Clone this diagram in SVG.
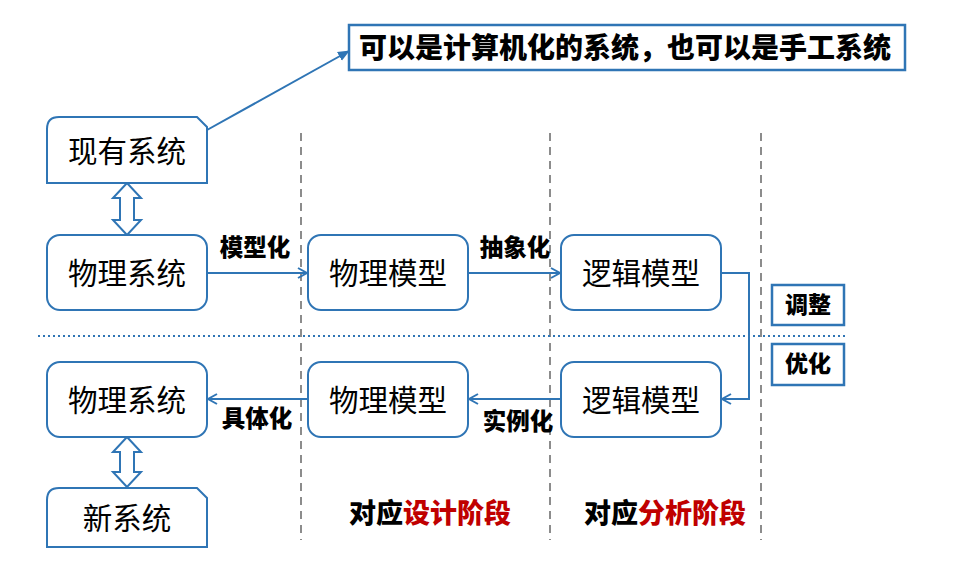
<svg xmlns="http://www.w3.org/2000/svg" width="955" height="587" viewBox="0 0 955 587">
<defs>
<style>
.box{fill:#fff;stroke:#2F75B5;stroke-width:2}
.sq{fill:#fff;stroke:#2F75B5;stroke-width:2.5}
.dbl{fill:#fff;stroke:#2F75B5;stroke-width:2;stroke-linejoin:miter}
.ln{fill:none;stroke:#2F75B5;stroke-width:2}
.dash{stroke:#8C8C8C;stroke-width:2;stroke-dasharray:8,6}
.dot{stroke:#2F75B5;stroke-width:2;stroke-dasharray:2,3}
.nt{font-family:"Noto Sans CJK SC","Noto Sans",sans-serif;font-size:29.5px;fill:#000;text-anchor:middle}
.bt{font-family:"Noto Sans CJK SC","Noto Sans",sans-serif;font-weight:900;fill:#000;text-anchor:middle}
.red{fill:#C00000}
</style>
<marker id="open" markerWidth="12" markerHeight="12" refX="10" refY="6" orient="auto" markerUnits="userSpaceOnUse">
<path d="M1,1 L10,6 L1,11" fill="none" stroke="#2F75B5" stroke-width="2"/>
</marker>
<marker id="fill" markerWidth="12" markerHeight="12" refX="11" refY="6" orient="auto" markerUnits="userSpaceOnUse">
<path d="M0,1 L12,6 L0,11 Z" fill="#2F75B5"/>
</marker>
</defs>
<rect width="955" height="587" fill="#fff"/>

<g id="guides">
<line class="dash" x1="301" y1="133" x2="301" y2="540"/>
<line class="dash" x1="550" y1="133" x2="550" y2="540"/>
<line class="dash" x1="761" y1="133" x2="761" y2="540"/>
<line class="dot" x1="38" y1="336" x2="845" y2="336"/>
</g>

<g id="connectors">
<line class="ln" x1="207" y1="130" x2="349" y2="51" marker-end="url(#fill)"/>
<line class="ln" x1="207" y1="273" x2="307" y2="273" marker-end="url(#open)"/>
<line class="ln" x1="468" y1="273" x2="560" y2="273" marker-end="url(#open)"/>
<path class="ln" d="M721,273 H749 V399 H722" marker-end="url(#open)"/>
<line class="ln" x1="561" y1="399" x2="469" y2="399" marker-end="url(#open)"/>
<line class="ln" x1="308" y1="399" x2="208" y2="399" marker-end="url(#open)"/>
<polygon class="dbl" points="127,183 141,198 134,198 134,220 141,220 127,235 113,220 120,220 120,198 113,198"/>
<polygon class="dbl" points="127,437 141,452 134,452 134,472 141,472 127,487 113,472 120,472 120,452 113,452"/>
<text class="bt" x="255" y="256" font-size="23.5">模型化</text>
<text class="bt" x="515" y="256" font-size="23.5">抽象化</text>
<text class="bt" x="257" y="427" font-size="23.5">具体化</text>
<text class="bt" x="518" y="430" font-size="23.5">实例化</text>
</g>

<g id="callout">
<rect class="sq" x="349" y="25" width="556" height="45"/>
<text class="bt" x="625" y="58" font-size="28">可以是计算机化的系统，也可以是手工系统</text>
</g>

<g id="existing">
<path class="box" d="M47,183 V129 Q47,117 59,117 H197 L207,127 V183 Z"/>
<text class="nt" x="127" y="162" font-size="26">现有系统</text>
</g>

<g id="phys-sys-top">
<rect class="box" x="47" y="235" width="160" height="75" rx="13"/>
<text class="nt" x="127" y="284">物理系统</text>
</g>
<g id="phys-model-top">
<rect class="box" x="308" y="235" width="160" height="75" rx="13"/>
<text class="nt" x="388" y="284">物理模型</text>
</g>
<g id="logic-model-top">
<rect class="box" x="561" y="235" width="160" height="75" rx="13"/>
<text class="nt" x="641" y="284">逻辑模型</text>
</g>

<g id="phys-sys-bot">
<rect class="box" x="47" y="362" width="160" height="75" rx="13"/>
<text class="nt" x="127" y="411">物理系统</text>
</g>
<g id="phys-model-bot">
<rect class="box" x="308" y="362" width="160" height="75" rx="13"/>
<text class="nt" x="388" y="411">物理模型</text>
</g>
<g id="logic-model-bot">
<rect class="box" x="561" y="362" width="160" height="75" rx="13"/>
<text class="nt" x="641" y="411">逻辑模型</text>
</g>

<g id="new-sys">
<path class="box" d="M47,547 V500 Q47,488 59,488 H197 L207,498 V547 Z"/>
<text class="nt" x="127" y="529" font-size="26">新系统</text>
</g>

<g id="adjust">
<rect class="sq" x="772" y="285" width="72" height="40"/>
<text class="bt" x="808" y="313" font-size="23">调整</text>
</g>
<g id="optimize">
<rect class="sq" x="772" y="344" width="72" height="41"/>
<text class="bt" x="808" y="372" font-size="23">优化</text>
</g>

<g id="phase-labels">
<text class="bt" x="430" y="523" font-size="27">对应<tspan class="red">设计阶段</tspan></text>
<text class="bt" x="665" y="523" font-size="27">对应<tspan class="red">分析阶段</tspan></text>
</g>
</svg>
